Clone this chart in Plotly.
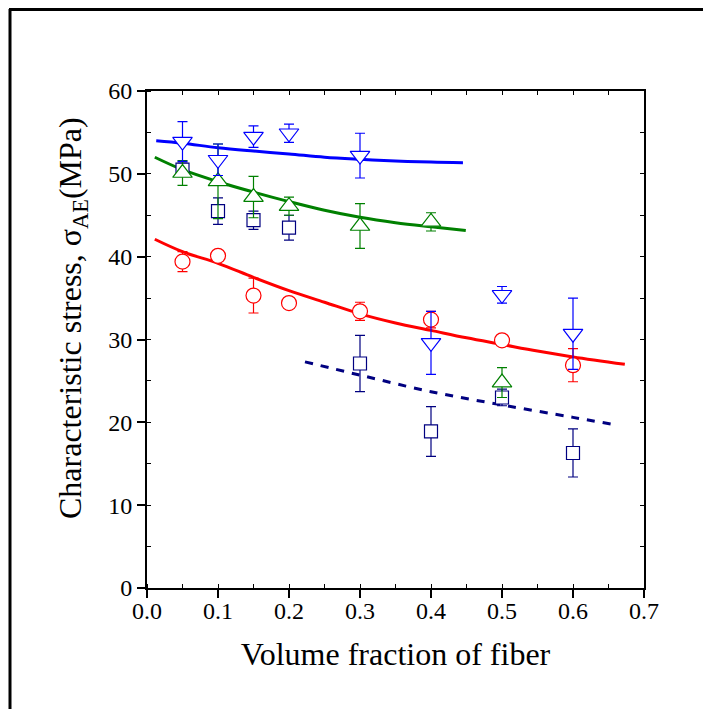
import plotly.graph_objects as go

# ---- data ----
x_pts = [0.05, 0.1, 0.15, 0.2, 0.3, 0.4, 0.5, 0.6]

blue_y   = [53.9, 51.7, 54.5, 54.9, 52.2, 29.6, 35.4, 30.7]
blue_err = [2.4, 1.9, 1.3, 1.1, 2.7, 3.8, 1.0, 4.3]

green_x   = [0.05, 0.1, 0.15, 0.2, 0.3, 0.4, 0.5]
green_y   = [50.1, 49.1, 47.2, 46.1, 43.7, 44.2, 24.8]
green_err = [1.5, 4.5, 2.5, 1.1, 2.7, 1.1, 1.8]

navy_y   = [50.5, 45.5, 44.4, 43.5, 27.1, 18.9, 23.0, 16.3]
navy_err = [0.8, 1.6, 1.1, 1.5, 3.4, 3.0, 1.0, 2.9]

red_y   = [39.4, 40.1, 35.3, 34.4, 33.4, 32.4, 29.9, 26.9]
red_err = [1.2, 0.5, 2.1, 0.5, 1.1, 1.0, 0.6, 2.0]

# fitted curves
blue_fit_x = [0.013, 0.05, 0.1, 0.15, 0.2, 0.25, 0.3, 0.35, 0.4, 0.445]
blue_fit_y = [54.0, 53.7, 53.15, 52.75, 52.4, 52.0, 51.75, 51.55, 51.42, 51.35]

green_fit_x = [0.011, 0.05, 0.1, 0.15, 0.2, 0.25, 0.3, 0.35, 0.4, 0.449]
green_fit_y = [52.0, 50.5, 49.05, 47.8, 46.65, 45.6, 44.75, 44.1, 43.6, 43.15]

red_fit_x = [0.011, 0.05, 0.1, 0.15, 0.2, 0.25, 0.3, 0.35, 0.4, 0.45, 0.5, 0.55, 0.6, 0.673]
red_fit_y = [42.1, 40.6, 39.2, 37.5, 35.9, 34.5, 33.1, 32.0, 31.1, 30.2, 29.4, 28.6, 27.9, 27.0]

navy_fit_x = [0.2225, 0.3, 0.4, 0.5, 0.6, 0.6535]
navy_fit_y = [27.3, 25.7, 23.7, 22.1, 20.6, 19.8]

x_ticks = [0.0, 0.1, 0.2, 0.3, 0.4, 0.5, 0.6, 0.7]
x_tick_text = ["0.0", "0.1", "0.2", "0.3", "0.4", "0.5", "0.6", "0.7"]
y_ticks = [0, 10, 20, 30, 40, 50, 60]

BLUE = "#0000FF"
GREEN = "#008000"
RED = "#FF0000"
NAVY = "#000080"
FONT = "Liberation Serif"

fig = go.Figure()

# fitted lines
fig.add_trace(go.Scatter(x=red_fit_x, y=red_fit_y, mode="lines", line=dict(color=RED, width=3, shape="spline")))
fig.add_trace(go.Scatter(x=green_fit_x, y=green_fit_y, mode="lines", line=dict(color=GREEN, width=3, shape="spline")))
fig.add_trace(go.Scatter(x=blue_fit_x, y=blue_fit_y, mode="lines", line=dict(color=BLUE, width=3, shape="spline")))
fig.add_trace(go.Scatter(x=navy_fit_x, y=navy_fit_y, mode="lines",
                         line=dict(color=NAVY, width=3, dash="8px,8px", shape="spline")))

def pts(xs, ys, err, color, symbol, size):
    return go.Scatter(
        x=xs, y=ys, mode="markers",
        marker=dict(symbol=symbol, size=size, color="rgba(255,255,255,1)",
                    line=dict(color=color, width=1.2)),
        error_y=dict(type="data", array=err, visible=True, color=color, thickness=1.2, width=5),
    )

fig.add_trace(pts(x_pts, red_y, red_err, RED, "circle", 15))
fig.add_trace(pts(x_pts, navy_y, navy_err, NAVY, "square", 13))
fig.add_trace(pts(green_x, green_y, green_err, GREEN, "triangle-up", 17))
fig.add_trace(pts(x_pts, blue_y, blue_err, BLUE, "triangle-down", 17))

axis_common = dict(showgrid=False, zeroline=False, showline=True, linecolor="black", linewidth=2,
                   ticks="outside", ticklen=8, tickwidth=2, tickcolor="black",
                   tickfont=dict(family=FONT, size=24, color="black"))

fig.update_xaxes(range=[0, 0.7], tickvals=x_ticks, ticktext=x_tick_text, ticklabelstandoff=-8,
                 minor=dict(dtick=0.05, ticks="inside", ticklen=4, tickwidth=1, tickcolor="black"),
                 title=dict(text="Volume fraction of fiber", font=dict(family=FONT, size=32, color="black"),
                            standoff=20),
                 **axis_common)
fig.update_yaxes(range=[0, 60], tickvals=y_ticks,
                 minor=dict(dtick=5, ticks="inside", ticklen=4, tickwidth=1, tickcolor="black"),
                 **axis_common)

# top and right frame with small inside ticks
fig.update_layout(
    xaxis2=dict(overlaying="x", side="top", range=[0, 0.7], showline=True, linecolor="black", linewidth=2,
                ticks="inside", dtick=0.05, tick0=0, ticklen=4, tickwidth=1, tickcolor="black",
                showticklabels=False, showgrid=False, zeroline=False),
    yaxis2=dict(overlaying="y", side="right", range=[0, 60], showline=True, linecolor="black", linewidth=2,
                ticks="inside", dtick=5, tick0=0, ticklen=4, tickwidth=1, tickcolor="black",
                showticklabels=False, showgrid=False, zeroline=False),
)
fig.add_trace(go.Scatter(x=[0], y=[0], xaxis="x2", yaxis="y2", mode="markers",
                         marker=dict(opacity=0), hoverinfo="skip"))

# page has an 8px body margin; work in page pixels, convert to figure pixels
OFF = 8
W, H = 716 - OFF, 709 - OFF
L, R, T, B = 147 - OFF, 644 - OFF, 91 - OFF, 588 - OFF
pw, ph = R - L, B - T

def px_x(p):
    return (p - OFF - L) / pw

def px_y(p):
    return (B - (p - OFF)) / ph

# y-axis title as annotation
fig.add_annotation(text="Characteristic stress, σ<sub>AE</sub>(MPa)", textangle=-90,
                   xref="paper", yref="paper", x=px_x(72), y=px_y(318), showarrow=False,
                   xanchor="center", yanchor="middle",
                   font=dict(family=FONT, size=32, color="black"))

# outer frame lines (left and top)
fig.add_shape(type="line", xref="paper", yref="paper", x0=px_x(10), x1=px_x(10), y0=px_y(9), y1=px_y(715),
              line=dict(color="black", width=3))
fig.add_shape(type="line", xref="paper", yref="paper", x0=px_x(9), x1=px_x(703), y0=px_y(9.5), y1=px_y(9.5),
              line=dict(color="black", width=3))

fig.update_layout(
    width=W, height=H, showlegend=False,
    margin=dict(l=L, r=W - R, t=T, b=H - B),
    paper_bgcolor="white", plot_bgcolor="white",
)

fig.write_html("out.html")
